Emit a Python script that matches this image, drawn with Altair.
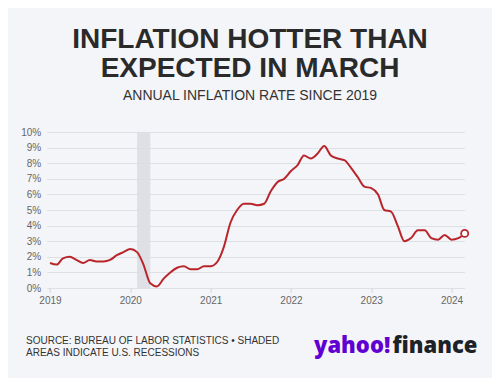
import altair as alt
import pandas as pd

# ---- data ----
months = pd.date_range("2019-01-01", "2024-03-01", freq="MS").strftime("%Y-%m-%d").tolist()
inflation = [
    1.6, 1.5, 1.9, 2.0, 1.8, 1.6, 1.8, 1.7, 1.7, 1.8, 2.1, 2.3,   # 2019
    2.5, 2.3, 1.5, 0.3, 0.1, 0.6, 1.0, 1.3, 1.4, 1.2, 1.2, 1.4,   # 2020
    1.4, 1.7, 2.6, 4.2, 5.0, 5.4, 5.4, 5.3, 5.4, 6.2, 6.8, 7.0,   # 2021
    7.5, 7.9, 8.5, 8.3, 8.6, 9.1, 8.5, 8.3, 8.2, 7.7, 7.1, 6.5,   # 2022
    6.4, 6.0, 5.0, 4.9, 4.0, 3.0, 3.2, 3.7, 3.7, 3.2, 3.1, 3.4,   # 2023
    3.1, 3.2, 3.5,                                                # 2024
]
recession_start = ["2020-02-01"]
recession_end = ["2020-04-01"]
y_ticks = [0, 1, 2, 3, 4, 5, 6, 7, 8, 9, 10]
year_ticks = ["2019-01-01", "2020-01-01", "2021-01-01", "2022-01-01", "2023-01-01", "2024-01-01"]

df = pd.DataFrame({"date": months, "rate": inflation})
rec = pd.DataFrame({"start": recession_start, "end": recession_end})
last = df.tail(1)

FONT = "Liberation Sans"
RED = "#b8262c"
W, H = 418, 156

x_scale = alt.Scale(domain=["2018-12-17", "2024-03-01"])
y_scale = alt.Scale(domain=[0, 10])

x_axis = alt.Axis(
    values=year_ticks, format="%Y", title=None, grid=False, domain=False,
    tickSize=4, tickColor="#cfd3d8", labelColor="#666666", labelFontSize=10,
    labelPadding=3, labelFont=FONT,
)
y_axis = alt.Axis(
    values=y_ticks, labelExpr="datum.value + '%'", title=None, domain=False,
    ticks=False, gridColor="#dde0e5", gridWidth=1, labelColor="#666666",
    labelFontSize=10, labelPadding=6, labelFont=FONT,
)

shade = alt.Chart(rec).mark_rect(color="#dcdee2", opacity=0.9).encode(
    x=alt.X("start:T", scale=x_scale, axis=x_axis),
    x2="end:T",
    y=alt.value(0),
    y2=alt.value(H),
)

line = alt.Chart(df).mark_line(color=RED, strokeWidth=2, interpolate="monotone").encode(
    x=alt.X("date:T", scale=x_scale, axis=x_axis),
    y=alt.Y("rate:Q", scale=y_scale, axis=y_axis),
)

dot = alt.Chart(last).mark_point(
    shape="circle", filled=True, fill="#ffffff", stroke=RED, strokeWidth=1.8, size=50, opacity=1
).encode(
    x=alt.X("date:T", scale=x_scale, axis=x_axis),
    y=alt.Y("rate:Q", scale=y_scale, axis=y_axis),
)

one = pd.DataFrame({"k": [0]})

def label(text, x, y, size, weight="normal", color="#2b2b2b", align="center", font=FONT):
    return alt.Chart(one).mark_text(
        text=text, fontSize=size, fontWeight=weight, color=color, align=align,
        baseline="alphabetic", font=font,
    ).encode(x=alt.value(x), y=alt.value(y))

title1 = label("INFLATION HOTTER THAN", 203.3, -84, 28, "bold", "#2a2a2a")
title2 = label("EXPECTED IN MARCH", 203.3, -55, 28, "bold", "#2a2a2a")
subtitle = label("ANNUAL INFLATION RATE SINCE 2019", 203.3, -32, 14, "normal", "#333333")
foot1 = label("SOURCE: BUREAU OF LABOR STATISTICS • SHADED", -20.7, 212, 10, "normal", "#333333", "left")
foot2 = label("AREAS INDICATE U.S. RECESSIONS", -20.7, 224, 10, "normal", "#333333", "left")
logo1 = label("yahoo!", 267.3, 220.5, 22, 800, "#6001d2", "left", "Open Sans")
logo2 = label("finance", 345.8, 220.5, 22, 800, "#1d2228", "left", "Open Sans")

chart = alt.layer(
    shade, line, dot, title1, title2, subtitle, foot1, foot2, logo1, logo2
).properties(
    width=W, height=H,
    autosize=alt.AutoSizeParams(type="none"),
    padding={"left": 38.7, "top": 124, "right": 27.3, "bottom": 90},
    background="#f3f5f8",
).configure_view(stroke=None)

chart.save("out.html", embed_options={"renderer": "svg", "actions": False})
